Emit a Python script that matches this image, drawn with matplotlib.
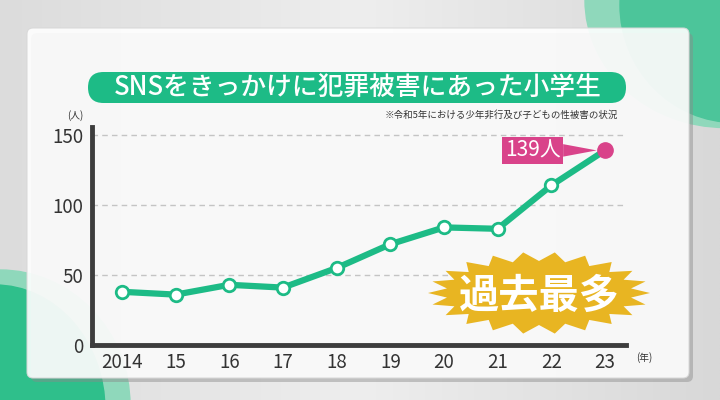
import numpy as np
import matplotlib
matplotlib.use("Agg")
import matplotlib.pyplot as plt
from matplotlib.patches import FancyBboxPatch, Polygon, Ellipse

plt.rcParams['font.family'] = ['Noto Sans CJK JP', 'DejaVu Sans']

years = [2014, 2015, 2016, 2017, 2018, 2019, 2020, 2021, 2022, 2023]
year_labels = ['2014', '15', '16', '17', '18', '19', '20', '21', '22', '23']
victims = [38, 36, 43, 41, 55, 72, 84, 83, 114, 139]
yticks = [0, 50, 100, 150]
title = 'SNSをきっかけに犯罪被害にあった小学生'
note = '※令和5年における少年非行及び子どもの性被害の状況'
burst_text = '過去最多'

GREEN = '#1dbb86'
PINK = '#d9438a'
GOLD = '#e8b522'
DARK = '#3d3d3d'

W, H = 720, 400
fig = plt.figure(figsize=(W / 100, H / 100), dpi=100)

# background overlay (pixel coords)
bg = fig.add_axes([0, 0, 1, 1], zorder=0)
bg.set_xlim(0, W); bg.set_ylim(H, 0); bg.axis('off')
grad = np.linspace(0, 1, 256)
img = np.outer(np.ones(256), grad)
bg.imshow(img, extent=[0, W, H, 0],
          cmap=matplotlib.colors.LinearSegmentedColormap.from_list('g', ['#dcdcdc', '#eeeeee', '#d8d8d8']),
          aspect='auto', zorder=0)
bg.add_patch(Ellipse((725, 0), 280, 255, angle=0, color='#8fd8bb', zorder=1))
bg.add_patch(Ellipse((735, 5), 230, 235, angle=0, color='#4cc59a', zorder=1))
bg.add_patch(Ellipse((0, 405), 260, 270, angle=0, color='#8fd8bb', zorder=1))
bg.add_patch(Ellipse((-5, 410), 220, 250, angle=0, color='#2fbf8b', zorder=1))
# panel shadow and panel
bg.add_patch(FancyBboxPatch((31, 33), 662, 349, boxstyle='round,pad=0,rounding_size=6',
                            fc='#8a8a8a', ec='none', alpha=0.45, zorder=2))
bg.add_patch(FancyBboxPatch((27, 28), 662, 350, boxstyle='round,pad=0,rounding_size=6',
                            fc='#ffffff', ec='#d8d8d8', lw=0.8, alpha=0.9, zorder=3))
# title pill
bg.add_patch(FancyBboxPatch((88, 72), 538, 31, boxstyle='round,pad=0,rounding_size=15.5',
                            fc=GREEN, ec='none', zorder=4))
bg.text(358, 88, title, color='white', fontsize=18.5, fontweight='medium',
        ha='center', va='center', zorder=5)
bg.text(618, 115, note, color='#333333', fontsize=6.8, ha='right', va='center', zorder=5)
bg.text(75, 116, '(人)', color='#333333', fontsize=7, ha='center', va='center', zorder=5)
bg.text(644, 358, '(年)', color='#333333', fontsize=7, ha='center', va='center', zorder=5)

# data axes
x_left, x_right, y_bot, y_top = 92, 626, 345, 127
ax = fig.add_axes([x_left / W, (H - y_bot) / H, (x_right - x_left) / W, (y_bot - y_top) / H], zorder=2)
ax.patch.set_alpha(0)
px_per_year = (605 - 122) / 9
ax.set_xlim(2014 - (122 - x_left) / px_per_year, 2023 + (x_right - 605) / px_per_year)
px_per_val = (345 - 135) / 150
ax.set_ylim(0, 150 + (135 - y_top) / px_per_val)
for s in ['top', 'right']:
    ax.spines[s].set_visible(False)
for s in ['left', 'bottom']:
    ax.spines[s].set_color(DARK)
    ax.spines[s].set_linewidth(3.5)
ax.set_yticks(yticks)
ax.set_yticklabels([str(v) for v in yticks], fontsize=13.5, color='#333333')
ax.set_xticks(years)
ax.set_xticklabels(year_labels, fontsize=13.5, color='#333333')
ax.tick_params(length=0, pad=5)
ax.tick_params(axis='y', pad=6)
for v in yticks[1:]:
    ax.axhline(v, color='#c4c4c4', lw=1, ls=(0, (4, 3)), zorder=1)

ax.plot(years, victims, color=GREEN, lw=4.5, zorder=3, solid_capstyle='round')
ax.plot(years[:-1], victims[:-1], 'o', ms=9, mfc='white', mec=GREEN, mew=2, zorder=4)
ax.plot(years[-1:], victims[-1:], 'o', ms=11, mfc=PINK, mec=PINK, zorder=4)
ax.annotate(f'{victims[-1]}人', xy=(years[-1], victims[-1]), xytext=(-52, 0), textcoords='offset points',
            fontsize=15, color='white', ha='center', va='center', zorder=6,
            bbox=dict(boxstyle='square,pad=0.12', fc=PINK, ec='none'),
            arrowprops=dict(arrowstyle='wedge,tail_width=0.6', fc=PINK, ec='none', shrinkA=0, shrinkB=6))

# starburst overlay
top = fig.add_axes([0, 0, 1, 1], zorder=3)
top.set_xlim(0, W); top.set_ylim(H, 0); top.axis('off')
cx, cy = 539, 293
n = 22
ang = np.linspace(0, 2 * np.pi, 2 * n, endpoint=False)
rx = np.where(np.arange(2 * n) % 2 == 0, 111, 93)
ry = np.where(np.arange(2 * n) % 2 == 0, 41, 32)
pts = np.column_stack([cx + rx * np.cos(ang), cy + ry * np.sin(ang)])
top.add_patch(Polygon(pts, closed=True, fc=GOLD, ec='none', zorder=1))
top.text(cx, cy + 3, burst_text, color='white', fontsize=29, fontweight='bold',
         ha='center', va='center', zorder=2)

fig.savefig('out.png', dpi=100)
